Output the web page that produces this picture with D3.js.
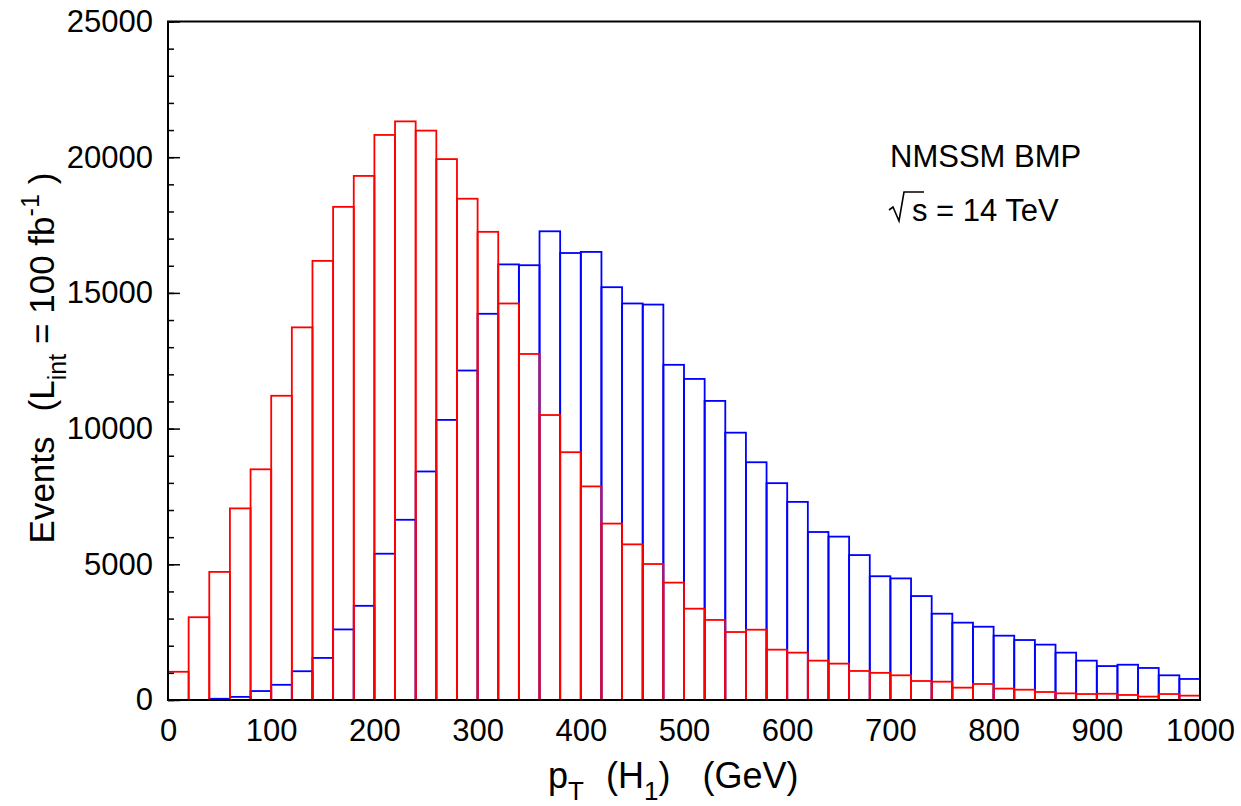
<!DOCTYPE html>
<html>
<head>
<meta charset="utf-8">
<script src="https://cdn.jsdelivr.net/npm/d3@7"></script>
<style>
  body { margin: 0; background: #fff; }
  text { font-family: "Liberation Sans", Arial, sans-serif; fill: #000; }
</style>
</head>
<body>
<svg id="chart" width="1241" height="806"></svg>
<script>
// bin lower edges, 20 GeV wide
const binWidth = 20;
const binStarts = d3.range(0, 1000, binWidth);

// blue histogram
const blueCounts = [0, 0, 45, 115, 330, 560, 1060, 1550, 2600, 3470,
  5390, 6640, 8420, 10320, 12140, 14230, 16050, 16020, 17270, 16470,
  16510, 15210, 14610, 14570, 12350, 11830, 11020, 9850, 8760, 7990,
  7300, 6190, 6020, 5340, 4560, 4480, 3830, 3180, 2850, 2700,
  2370, 2210, 2040, 1745, 1450, 1250, 1300, 1180, 910, 775];

// red histogram
const redCounts = [1040, 3050, 4720, 7060, 8500, 11210, 13730, 16180, 18170, 19310,
  20820, 21320, 20980, 19930, 18470, 17250, 14610, 12750, 10500, 9130,
  7870, 6500, 5735, 5010, 4325, 3365, 2950, 2505, 2590, 1855,
  1745, 1450, 1340, 1070, 1000, 910, 700, 675, 455, 590,
  420, 380, 295, 245, 220, 230, 185, 125, 220, 160];

const xTicks = d3.range(0, 1001, 100);
const yTicks = [0, 5000, 10000, 15000, 20000, 25000];
const yMinorTicks = d3.range(0, 25001, 1000);

const svg = d3.select('#chart');
const margin = { top: 21.5, right: 41, bottom: 106, left: 168 };
const width = 1241 - margin.left - margin.right;
const height = 806 - margin.top - margin.bottom;

const x = d3.scaleLinear().domain([0, 1000]).range([0, width]);
const y = d3.scaleLinear().domain([0, 25000]).range([height, 0]);

const g = svg.append('g')
  .attr('transform', `translate(${margin.left},${margin.top})`);

function drawHist(counts, color, cls) {
  g.selectAll('.' + cls)
    .data(counts)
    .enter().append('rect')
    .attr('class', cls)
    .attr('x', (d, i) => x(binStarts[i]))
    .attr('width', x(binWidth) - x(0))
    .attr('y', d => y(d))
    .attr('height', d => height - y(d))
    .attr('fill', 'none')
    .attr('stroke', color)
    .attr('stroke-width', 1.8);
}

drawHist(blueCounts, '#0000ff', 'blue');
drawHist(redCounts, '#ff0000', 'red');

// minor ticks
g.append('g')
  .call(d3.axisLeft(y).tickValues(yMinorTicks).tickSize(-6).tickFormat(''))
  .call(a => a.select('.domain').remove())
  .selectAll('line').attr('stroke', '#000').attr('stroke-width', 1.5);

// major ticks + labels
g.append('g')
  .call(d3.axisLeft(y).tickValues(yTicks).tickSize(-12).tickPadding(15).tickFormat(d3.format('d')))
  .call(a => a.select('.domain').remove())
  .call(a => a.selectAll('line').attr('stroke', '#000').attr('stroke-width', 1.5))
  .call(a => a.selectAll('text').style('font-size', '31px')
    .style('font-family', '"Liberation Sans", Arial, sans-serif'));

g.append('g')
  .attr('transform', `translate(0,${height})`)
  .call(d3.axisBottom(x).tickValues(xTicks).tickSize(0).tickPadding(19).tickFormat(d3.format('d')))
  .call(a => a.select('.domain').remove())
  .call(a => a.selectAll('text').style('font-size', '31px')
    .style('font-family', '"Liberation Sans", Arial, sans-serif'));

// frame
g.append('rect')
  .attr('width', width).attr('height', height)
  .attr('fill', 'none').attr('stroke', '#000').attr('stroke-width', 2);

// axis titles
const xt = svg.append('text')
  .attr('x', 548).attr('y', 788)
  .style('font-size', '36px');
xt.append('tspan').text('p');
xt.append('tspan').attr('dy', 12).style('font-size', '26px').text('T');
xt.append('tspan').attr('dy', -12).attr('dx', 22).text('(H');
xt.append('tspan').attr('dy', 12).style('font-size', '26px').text('1');
xt.append('tspan').attr('dy', -12).text(')');
xt.append('tspan').attr('dx', 32).text('(GeV)');

const yt = svg.append('text')
  .attr('transform', 'translate(54,358) rotate(-90)')
  .attr('text-anchor', 'middle')
  .style('font-size', '35px');
yt.append('tspan').text('Events');
yt.append('tspan').attr('dx', 25).text('(L');
yt.append('tspan').attr('dy', 12).style('font-size', '25px').text('int');
yt.append('tspan').attr('dy', -12).attr('dx', 10).text('= 100 fb');
yt.append('tspan').attr('dy', -15).style('font-size', '25px').text('-1');
yt.append('tspan').attr('dy', 15).attr('dx', 10).text(')');

// annotation
svg.append('text')
  .attr('x', 890).attr('y', 167)
  .style('font-size', '31px')
  .text('NMSSM BMP');

svg.append('path')
  .attr('d', 'M889,210 L893,207 L899,221 L904,192 L924,192')
  .attr('fill', 'none').attr('stroke', '#000').attr('stroke-width', 1.6);

svg.append('text')
  .attr('x', 912).attr('y', 221)
  .style('font-size', '31px')
  .style('white-space', 'pre')
  .text('s = 14 TeV');
</script>
</body>
</html>
